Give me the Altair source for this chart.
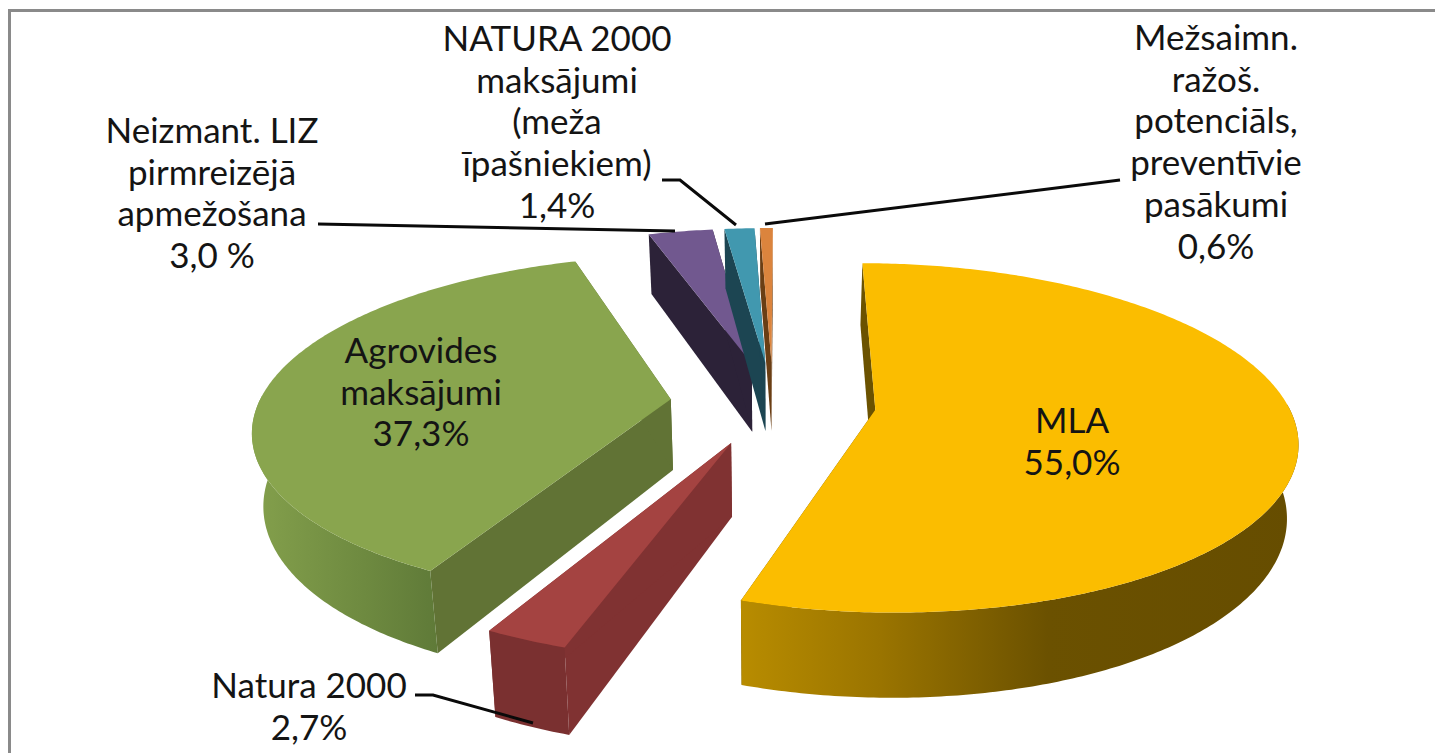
import math
import altair as alt

# ---- values ---------------------------------------------------------------
shares = [55.0, 2.7, 37.3, 3.0, 1.4, 0.6]
categories = ["MLA", "Natura 2000", "Agrovides maksājumi",
              "Neizmant. LIZ pirmreizējā apmežošana",
              "NATURA 2000 maksājumi (meža īpašniekiem)",
              "Mežsaimn. ražoš. potenciāls, preventīvie pasākumi"]
label_lines = [
    ["MLA", "55,0%"],
    ["Natura 2000", "2,7%"],
    ["Agrovides", "maksājumi", "37,3%"],
    ["Neizmant. LIZ", "pirmreizējā", "apmežošana", "3,0 %"],
    ["NATURA 2000", "maksājumi", "(meža", "īpašniekiem)", "1,4%"],
    ["Mežsaimn.", "ražoš.", "potenciāls,", "preventīvie", "pasākumi", "0,6%"],
]
# ---- styling ---------------------------------------------------------------
top_colors = ["#fbbd00", "#a44341", "#89a54e", "#71588f", "#4198af", "#db843d"]
cut_colors = ["#6b5200", "#803232", "#617335", "#2c2238", "#1c4552", "#6a3e14"]
wall_stops = [
    [("#b88c00", 0), ("#9a7400", 0.25), ("#6b5100", 0.55), ("#664d00", 1)],
    [("#7a3030", 0), ("#7a3030", 1)],
    [("#84a04c", 0), ("#6e8a40", 0.6), ("#5f7a38", 1)],
]
label_pos = [(1072, 422), (309, 687), (421, 352), (212, 132), (557, 40), (1216, 39)]
leaders = [
    [(415, 695), (433, 695), (533, 723)],
    [(318, 224), (675, 231)],
    [(662, 180), (680, 180), (736, 225)],
    [(1120, 180), (765, 224)],
]
OX, OY = 8, 8
W, H = 1427, 745
CX, CY = 773 - OX, 403 - OY
A_R, B_R = 412, 168     # ellipse radii of the pie
K = 0.16                # perspective strength
DEPTH = 71
CONVERGE = 0.978
EXPLODE = 0.25
START = 0.2


def project(X, Y, low=False):
    w = 1 / (1 + K * Y)
    x = A_R * X * w
    y = CY - B_R * Y * w
    if low:
        x *= CONVERGE
        y += DEPTH * w
    return [CX + x, y]


def rad(t):
    return math.radians(t)


def poly(points):
    pts = list(points) + [points[0]]
    return {"type": "Feature", "properties": {},
            "geometry": {"type": "Polygon", "coordinates": [pts]}}


def shape(points, **mark):
    return alt.Chart(alt.Data(values=[poly(points)])).mark_geoshape(
        strokeWidth=0, **mark).project(type="identity", scale=1, translate=[0, 0])


def line(points):
    feat = {"type": "Feature", "properties": {},
            "geometry": {"type": "LineString",
                         "coordinates": [[x - OX, y - OY] for x, y in points]}}
    return alt.Chart(alt.Data(values=[feat])).mark_geoshape(
        filled=False, stroke="#0a0a0a", strokeWidth=3).project(
        type="identity", scale=1, translate=[0, 0])


# angular extent of each slice, clockwise from the back of the pie
spans, start = [], START
for v in shares:
    spans.append((start, start + v * 3.6))
    start += v * 3.6

slices = {}
for i, (t0, t1) in enumerate(spans):
    mid = rad((t0 + t1) / 2)
    ax, ay = EXPLODE * math.sin(mid), EXPLODE * math.cos(mid)
    n = max(3, int((t1 - t0) * 1.5))
    ts = [t0 + (t1 - t0) * j / n for j in range(n + 1)]
    rim = [(ax + math.sin(rad(t)), ay + math.cos(rad(t))) for t in ts]
    top = [project(ax, ay)] + [project(*p) for p in rim]
    layers = []
    for p in (rim[0], rim[-1]):
        layers.append(shape([project(ax, ay), project(*p), project(*p, low=True),
                             project(ax, ay, low=True)], fill=cut_colors[i]))
    front = [p for p, t in zip(rim, ts) if 88 <= t <= 272]
    if i < 3 and len(front) > 1:
        wall = [project(*p) for p in front] + [project(*p, low=True) for p in reversed(front)]
        layers.append(shape(wall, fill=alt.Gradient(
            gradient="linear", x1=0, x2=1, y1=0, y2=0,
            stops=[alt.GradientStop(color=c, offset=o) for c, o in wall_stops[i]])))
    layers.append(shape(top, fill=top_colors[i]))
    slices[i] = layers

paint_order = [3, 4, 5, 2, 1, 0]
layers = [l for i in paint_order for l in slices[i]]

# frame of the picture
frame = [
    alt.Chart(alt.Data(values=[{"a": 1}])).mark_rule(color="#8a8a8a", strokeWidth=3).encode(
        x=alt.value(1.5), y=alt.value(1), y2=alt.value(H)),
    alt.Chart(alt.Data(values=[{"a": 1}])).mark_rule(color="#8a8a8a", strokeWidth=3).encode(
        x=alt.value(0), x2=alt.value(W), y=alt.value(2.5)),
]

texts = []
for lines, (x, y) in zip(label_lines, label_pos):
    texts.append(
        alt.Chart(alt.Data(values=[{"t": "\n".join(lines)}])).mark_text(
            font="Lato", fontSize=35, lineBreak="\n", lineHeight=41.7,
            align="center", baseline="middle", color="#141414").encode(
            text="t:N", x=alt.value(x - OX), y=alt.value(y - OY)))

chart = alt.layer(*frame, *layers, *[line(l) for l in leaders], *texts).properties(
    width=W, height=H, padding=0, background="white",
    autosize=alt.AutoSizeParams(type="none"),
).configure_view(stroke=None)

chart.save("out.html", embed_options={"renderer": "svg", "actions": False})
